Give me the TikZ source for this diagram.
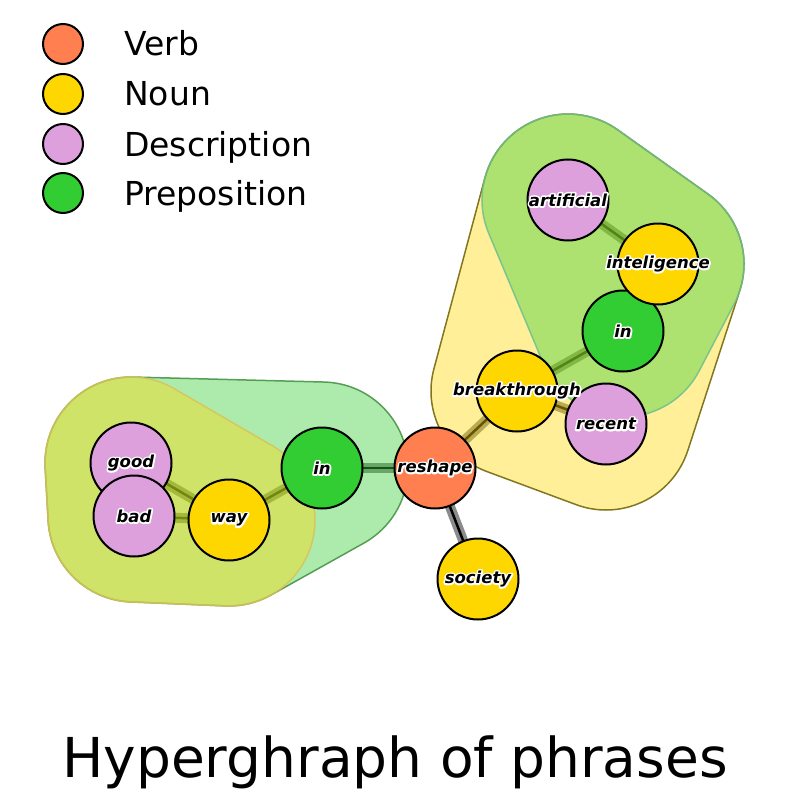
\documentclass[tikz,border=0pt]{standalone}
\usepackage{fontspec}
\setmainfont{DejaVu Sans}
\usetikzlibrary{calc}
\pgfdeclarelayer{edgelayer}
\pgfdeclarelayer{hulllayer}
\pgfdeclarelayer{labellayer}
\pgfsetlayers{edgelayer,hulllayer,main,labellayer}
\definecolor{verbc}{HTML}{FF7F50}
\definecolor{nounc}{HTML}{FFD700}
\definecolor{descc}{HTML}{DDA0DD}
\definecolor{prepc}{HTML}{32CD32}
\definecolor{lgborder}{HTML}{3F8F3F}
\definecolor{lyborder}{HTML}{D9C25A}
\definecolor{ryborder}{HTML}{6E6000}
\definecolor{rgborder}{HTML}{6FBF8F}
\newcommand\halo[1]{\rlap{\special{pdf:literal 1 Tr 3.4 w 1 j 1 J}\color{white}#1}\special{pdf:literal 0 Tr}#1}
\tikzset{
  wnode/.style={circle, draw=black, line width=2pt, minimum size=81pt, inner sep=0pt},
  verb/.style={wnode, fill=verbc},
  noun/.style={wnode, fill=nounc},
  desc/.style={wnode, fill=descc},
  prep/.style={wnode, fill=prepc},
  lbl/.style={inner sep=0pt, text=black, font=\bfseries\itshape\fontsize{16.5}{18}\selectfont},
  legc/.style={circle, draw=black, line width=2pt, minimum size=40pt, inner sep=0pt},
  legt/.style={anchor=base west, inner sep=0pt, font=\fontsize{33}{36}\selectfont},
  band/.style={line width=10pt, draw=black, draw opacity=0.45},
  core/.style={line width=2.5pt, draw=black},
  hull/.style={line width=1.5pt, fill opacity=0.4, draw opacity=0.85},
}
\begin{document}
\begin{tikzpicture}[x=1pt,y=-1pt]
\useasboundingbox (0,0) rectangle (790,797);
% legend
\node[legc, fill=verbc] (lv) at (63,44) {};
\node[legc, fill=nounc] (ln) at (63,94) {};
\node[legc, fill=descc] (ld) at (63,144) {};
\node[legc, fill=prepc] (lp) at (63,193) {};
\node[legt] (lvt) at (124,56) {Verb};
\node[legt] (lnt) at (124,106) {Noun};
\node[legt] (ldt) at (124,156) {Description};
\node[legt] (lpt) at (124,205) {Preposition};
% nodes
\node[desc] (G) at (131,463) {};
\node[desc] (B) at (134,516) {};
\node[noun] (W) at (229,520) {};
\node[prep] (L) at (322,468) {};
\node[verb] (Rs) at (435,468) {};
\node[noun] (S) at (478,579) {};
\node[noun] (Bt) at (517,391) {};
\node[desc] (Rc) at (606,424) {};
\node[prep] (I) at (623,331) {};
\node[noun] (T) at (658,264) {};
\node[desc] (A) at (568,200) {};
% labels
\begin{pgfonlayer}{labellayer}
\node[lbl] (Gl) at (G) {\halo{good}};
\node[lbl] (Bl) at (B) {\halo{bad}};
\node[lbl] (Wl) at (W) {\halo{way}};
\node[lbl] (Ll) at (L) {\halo{in}};
\node[lbl] (Rsl) at (Rs) {\halo{reshape}};
\node[lbl] (Sl) at (S) {\halo{society}};
\node[lbl] (Btl) at (Bt) {\halo{breakthrough}};
\node[lbl] (Rcl) at (Rc) {\halo{recent}};
\node[lbl] (Il) at (I) {\halo{in}};
\node[lbl] (Tl) at (T) {\halo{inteligence}};
\node[lbl] (Al) at (A) {\halo{artificial}};
\end{pgfonlayer}
% edges
\begin{pgfonlayer}{edgelayer}
\foreach \a/\b in {G/W,B/W,W/L,L/Rs,Rs/Bt,Rs/S,Bt/Rc,Bt/I,A/T}{
  \draw[band] (\a.center) -- (\b.center);
  \draw[core] (\a.center) -- (\b.center);
}
\end{pgfonlayer}
% hulls
\begin{pgfonlayer}{hulllayer}
% left green: good, bad, way, in
\path[hull, fill=prepc, draw=lgborder]
  ($(G)+(-88.50:86)$) -- ($(L)+(-88.50:86)$) arc[start angle=-88.50,end angle=60.79,radius=86]
  -- ($(W)+(60.79:86)$) arc[start angle=60.79,end angle=92.41,radius=86]
  -- ($(B)+(92.41:86)$) arc[start angle=92.41,end angle=176.76,radius=86]
  -- ($(G)+(176.76:86)$) arc[start angle=176.76,end angle=271.50,radius=86] -- cycle;
% left yellow: good, bad, way
\path[hull, fill=nounc, draw=lyborder]
  ($(G)+(-59.81:86)$) -- ($(W)+(-59.81:86)$) arc[start angle=-59.81,end angle=92.41,radius=86]
  -- ($(B)+(92.41:86)$) arc[start angle=92.41,end angle=176.76,radius=86]
  -- ($(G)+(176.76:86)$) arc[start angle=176.76,end angle=300.19,radius=86] -- cycle;
% right yellow: artificial, inteligence, in, recent, breakthrough
\path[hull, fill=nounc, draw=ryborder]
  ($(A)+(-54.58:86)$) -- ($(T)+(-54.58:86)$) arc[start angle=-54.58,end angle=18.00,radius=86]
  -- ($(Rc)+(18.00:86)$) arc[start angle=18.00,end angle=110.35,radius=86]
  -- ($(Bt)+(110.35:86)$) arc[start angle=110.35,end angle=194.95,radius=86]
  -- ($(A)+(194.95:86)$) arc[start angle=194.95,end angle=305.42,radius=86] -- cycle;
% right green: artificial, inteligence, in
\path[hull, fill=prepc, draw=rgborder]
  ($(A)+(-54.58:86)$) -- ($(T)+(-54.58:86)$) arc[start angle=-54.58,end angle=27.58,radius=86]
  -- ($(I)+(27.58:86)$) arc[start angle=27.58,end angle=157.22,radius=86]
  -- ($(A)+(157.22:86)$) arc[start angle=157.22,end angle=305.42,radius=86] -- cycle;
\end{pgfonlayer}
% title
\node[anchor=base, inner sep=0pt, font=\fontsize{55}{60}\selectfont] (title) at (395,777) {Hyperghraph of phrases};
\end{tikzpicture}
\end{document}
